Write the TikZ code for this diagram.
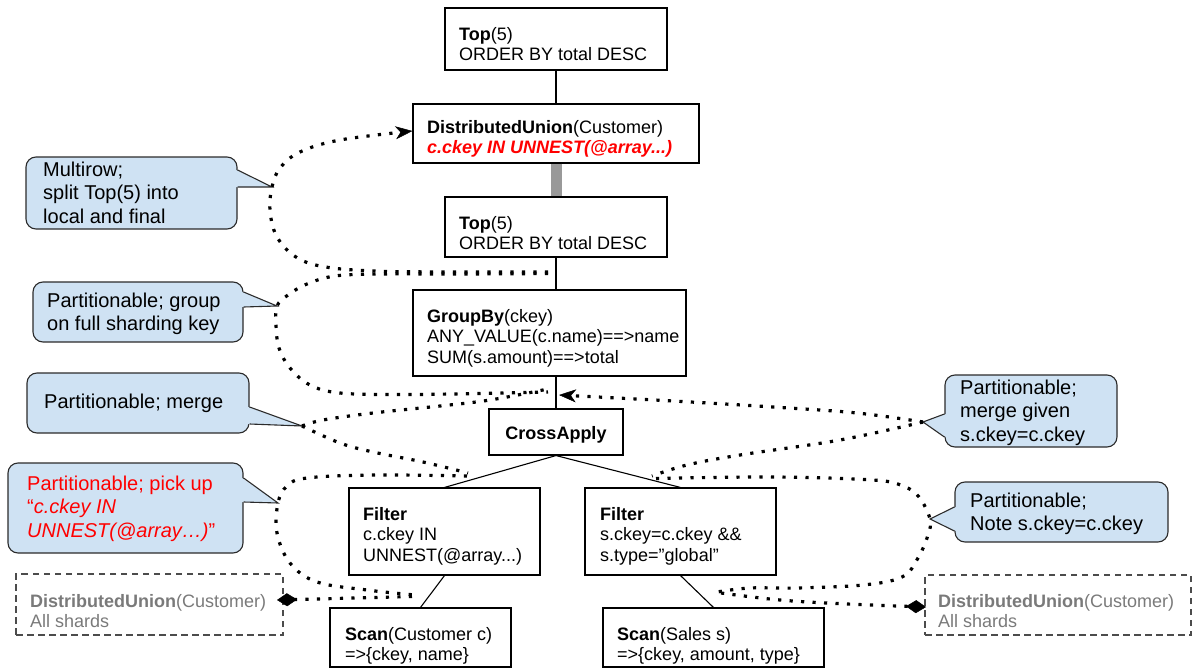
\documentclass[tikz,border=0pt]{standalone}
\usepackage{fontspec}
\setmainfont{Liberation Sans}
\usetikzlibrary{arrows.meta,calc}
\definecolor{callfill}{HTML}{CFE2F3}
\definecolor{callline}{HTML}{2B2B2B}
\definecolor{redtxt}{HTML}{FF0000}
\definecolor{dugray}{HTML}{7A7A7A}
\definecolor{linkgray}{HTML}{999999}
\begin{document}
\begin{tikzpicture}[x=1pt,y=-1pt,
  opbox/.style={draw=black, line width=1.1pt, rectangle, inner sep=0pt},
  dashbox/.style={draw=black!70, line width=1.1pt, dash pattern=on 6.5pt off 4.5pt, rectangle, inner sep=0pt},
  callbox/.style={draw=callline, line width=1.1pt, fill=callfill, rounded corners=10pt, rectangle, inner sep=0pt},
  optext/.style={anchor=north west, inner sep=0pt, align=left, font=\fontsize{18}{20.5}\selectfont},
  calltext/.style={anchor=north west, inner sep=0pt, align=left, font=\fontsize{20}{23.5}\selectfont},
  tree/.style={draw=black, line width=1.1pt},
  pointer/.style={draw=callline, line width=1.1pt, line join=miter},
  dots/.style={line width=3.2pt, line cap=butt, dash pattern=on 3.2pt off 8.3pt},
  stealthtip/.style={-{Stealth[length=17pt,width=13pt,inset=5pt,line width=0.5pt]}},
]
\useasboundingbox (0,0) rectangle (1192,669);

% ---------- operator boxes ----------
\node[opbox, minimum width=222, minimum height=62] (top1) at (556,39) {};
\node[opbox, minimum width=286, minimum height=59] (du) at (556,133.5) {};
\node[opbox, minimum width=222, minimum height=60] (top2) at (556,227) {};
\node[opbox, minimum width=273, minimum height=86] (gb) at (549.5,333) {};
\node[opbox, minimum width=134, minimum height=46] (ca) at (556,432) {};
\node[opbox, minimum width=191, minimum height=87] (fl) at (444.5,531.5) {};
\node[opbox, minimum width=191, minimum height=87] (fr) at (680.5,531.5) {};
\node[opbox, minimum width=181, minimum height=59] (sl) at (420.5,637.5) {};
\node[opbox, minimum width=221, minimum height=59] (sr) at (713.5,637.5) {};
\node[dashbox, minimum width=267, minimum height=61] (dul) at (149.5,604.5) {};
\node[dashbox, minimum width=266, minimum height=60] (dur) at (1058,605) {};

% ---------- operator texts ----------
\node[optext] (top1t) at (459,25.65) {\strut\textbf{Top}(5)\\ORDER BY total DESC};
\node[optext] (dut) at (427,118.65) {\strut\textbf{DistributedUnion}(Customer)\\\textcolor{redtxt}{\bfseries\itshape c.ckey IN UNNEST(@array...)}};
\node[optext] (top2t) at (459,214.65) {\strut\textbf{Top}(5)\\ORDER BY total DESC};
\node[optext] (gbt) at (427,307.65) {\strut\textbf{GroupBy}(ckey)\\ANY\_VALUE(c.name)==>name\\SUM(s.amount)==>total};
\node[anchor=base, inner sep=0pt, font=\fontsize{18}{20.5}\selectfont\bfseries] (cat) at (556,439) {CrossApply};
\node[optext] (flt) at (363,505.65) {\strut\textbf{Filter}\\c.ckey IN\\UNNEST(@array...)};
\node[optext] (frt) at (600,505.65) {\strut\textbf{Filter}\\s.ckey=c.ckey \&\&\\s.type=”global”};
\node[optext] (slt) at (345,625.65) {\strut\textbf{Scan}(Customer c)\\=>\{ckey, name\}};
\node[optext] (srt) at (617,625.65) {\strut\textbf{Scan}(Sales s)\\=>\{ckey, amount, type\}};
\node[optext, text=dugray] (dult) at (30,592.65) {\strut\textbf{DistributedUnion}(Customer)\\All shards};
\node[optext, text=dugray] (durt) at (938,592.65) {\strut\textbf{DistributedUnion}(Customer)\\All shards};

% ---------- tree connectors ----------
\draw[tree] (top1) -- (du);
\draw[linkgray, line width=11pt] (du) -- (top2);
\draw[tree] (top2.south) -- (top2.south |- gb.north);
\draw[tree] (gb.south -| ca.north) -- (ca.north);
\draw[tree] (ca.south) -- (fl.north);
\draw[tree] (ca.south) -- (fr.north);
\draw[tree] (fl.south) -- (sl.north);
\draw[tree] (fr.south) -- (sr.north);

% ---------- callouts ----------
\node[callbox, minimum width=211, minimum height=72] (c1) at (131.5,193) {};
\node[callbox, minimum width=210, minimum height=60] (c2) at (138,312) {};
\node[callbox, minimum width=222, minimum height=60] (c3) at (138,403) {};
\node[callbox, minimum width=235, minimum height=90] (c4) at (125.5,508) {};
\node[callbox, minimum width=172, minimum height=72] (c5) at (1031,411) {};
\node[callbox, minimum width=213, minimum height=60] (c6) at (1061.5,512) {};

\coordinate (c1tip) at (272,187);
\coordinate (c2tip) at (277,306);
\coordinate (c3tip) at (302,426);
\coordinate (c4tip) at (278,503);
\coordinate (c5tip) at (923,422);
\coordinate (c6tip) at (930,519);

\fill[callfill] ($(c1.east |- 0,170)+(-1.5,0)$) -- (c1tip) -- ($(c1.east |- 0,187)+(-1.5,0)$) -- cycle;
\draw[pointer] (c1.east |- 0,170) -- (c1tip) -- (c1.east |- 0,187);
\fill[callfill] ($(c2.east |- 0,292)+(-1.5,0)$) -- (c2tip) -- ($(c2.east |- 0,307)+(-1.5,0)$) -- cycle;
\draw[pointer] (c2.east |- 0,292) -- (c2tip) -- (c2.east |- 0,307);
\fill[callfill] ($(c3.east |- 0,407)+(-1.5,0)$) -- (c3tip) -- ($(c3.east |- 0,424)+(-1.5,0)$) -- cycle;
\draw[pointer] (c3.east |- 0,407) -- (c3tip) -- (c3.east |- 0,424);
\fill[callfill] ($(c4.east |- 0,478)+(-1.5,0)$) -- (c4tip) -- ($(c4.east |- 0,502)+(-1.5,0)$) -- cycle;
\draw[pointer] (c4.east |- 0,478) -- (c4tip) -- (c4.east |- 0,502);
\fill[callfill] ($(c5.west |- 0,414)+(1.5,0)$) -- (c5tip) -- ($(c5.west |- 0,437)+(1.5,0)$) -- cycle;
\draw[pointer] (c5.west |- 0,414) -- (c5tip) -- (c5.west |- 0,437);
\fill[callfill] ($(c6.west |- 0,507)+(1.5,0)$) -- (c6tip) -- ($(c6.west |- 0,531)+(1.5,0)$) -- cycle;
\draw[pointer] (c6.west |- 0,507) -- (c6tip) -- (c6.west |- 0,531);

\node[calltext] (c1t) at (43,159.55) {\strut Multirow;\\split Top(5) into\\local and final};
\node[calltext] (c2t) at (47,290.55) {\strut Partitionable; group\\on full sharding key};
\node[calltext] (c3t) at (44,391.55) {\strut Partitionable; merge};
\node[calltext, text=redtxt] (c4t) at (27,473.55) {\strut Partitionable; pick up\\“\textit{c.ckey IN}\\\textit{UNNEST(@array…)}”};
\node[calltext] (c5t) at (960,377.55) {\strut Partitionable;\\merge given\\s.ckey=c.ckey};
\node[calltext] (c6t) at (970,490.55) {\strut Partitionable;\\Note s.ckey=c.ckey};

% ---------- dotted annotation curves ----------
\coordinate (aS) at (548,272);
\coordinate (aE) at ($(du.west)+(0,-2.5)$);
\coordinate (bS) at (548,273.5);
\coordinate (bE) at (548,392);
\coordinate (cE1) at (548,389);
\coordinate (cE2) at (468,473);
\coordinate (dS) at (467,476);
\coordinate (dE) at (415,595);
\coordinate (dlD) at (277,600);
\coordinate (dlE) at (413,596.5);
\coordinate (eE) at (559,395);
\coordinate (fE) at (652,476);
\coordinate (gS) at (656,478.5);
\coordinate (gE) at (717,592);
\coordinate (drS) at (721,593);
\coordinate (drD) at (926,607);

\draw[dots, stealthtip] plot[smooth, tension=0.6] coordinates {(aS) (460,272) (373,271) (320,266) (293,255) (276,235) (270,210) (c1tip) (280,168) (300,152) (340,140) (aE)};
\draw[dots] plot[smooth, tension=0.6] coordinates {(bS) (460,274) (380,274) (335,276) (307,284) (288,295) (c2tip) (276,325) (279,348) (290,368) (310,385) (340,393) (400,394.5) (480,393.5) (bE)};
\draw[dots] plot[smooth, tension=0.6] coordinates {(c3tip) (323,420) (373,413) (440,406) (490,400) (cE1)};
\draw[dots] plot[smooth, tension=0.6] coordinates {(c3tip) (340,443) (373,452) (423,462) (cE2)};
\draw[dots] plot[smooth, tension=0.6] coordinates {(dS) (373,475) (307,478) (287,486) (c4tip) (277,533) (290,563) (317,582) (367,590) (dE)};
\draw[dots, {Diamond[length=20pt,width=13pt,line width=0.5pt]}-] (dlD) -- (dlE);
\draw[dots, stealthtip] plot[smooth, tension=0.6] coordinates {(c5tip) (857,413) (773,407) (673,401) (eE)};
\draw[dots] plot[smooth, tension=0.6] coordinates {(c5tip) (840,440) (740,455) (687,465) (fE)};
\draw[dots] plot[smooth, tension=0.6] coordinates {(gS) (773,477) (873,480) (903,486) (919,497) (c6tip) (928,535) (918,558) (902,577) (863,585) (797,588) (750,588) (gE)};
\draw[dots, -{Diamond[length=20pt,width=13pt,line width=0.5pt]}] plot[smooth, tension=0.6] coordinates {(drS) (780,600) (847,604) (drD)};
\end{tikzpicture}
\end{document}
